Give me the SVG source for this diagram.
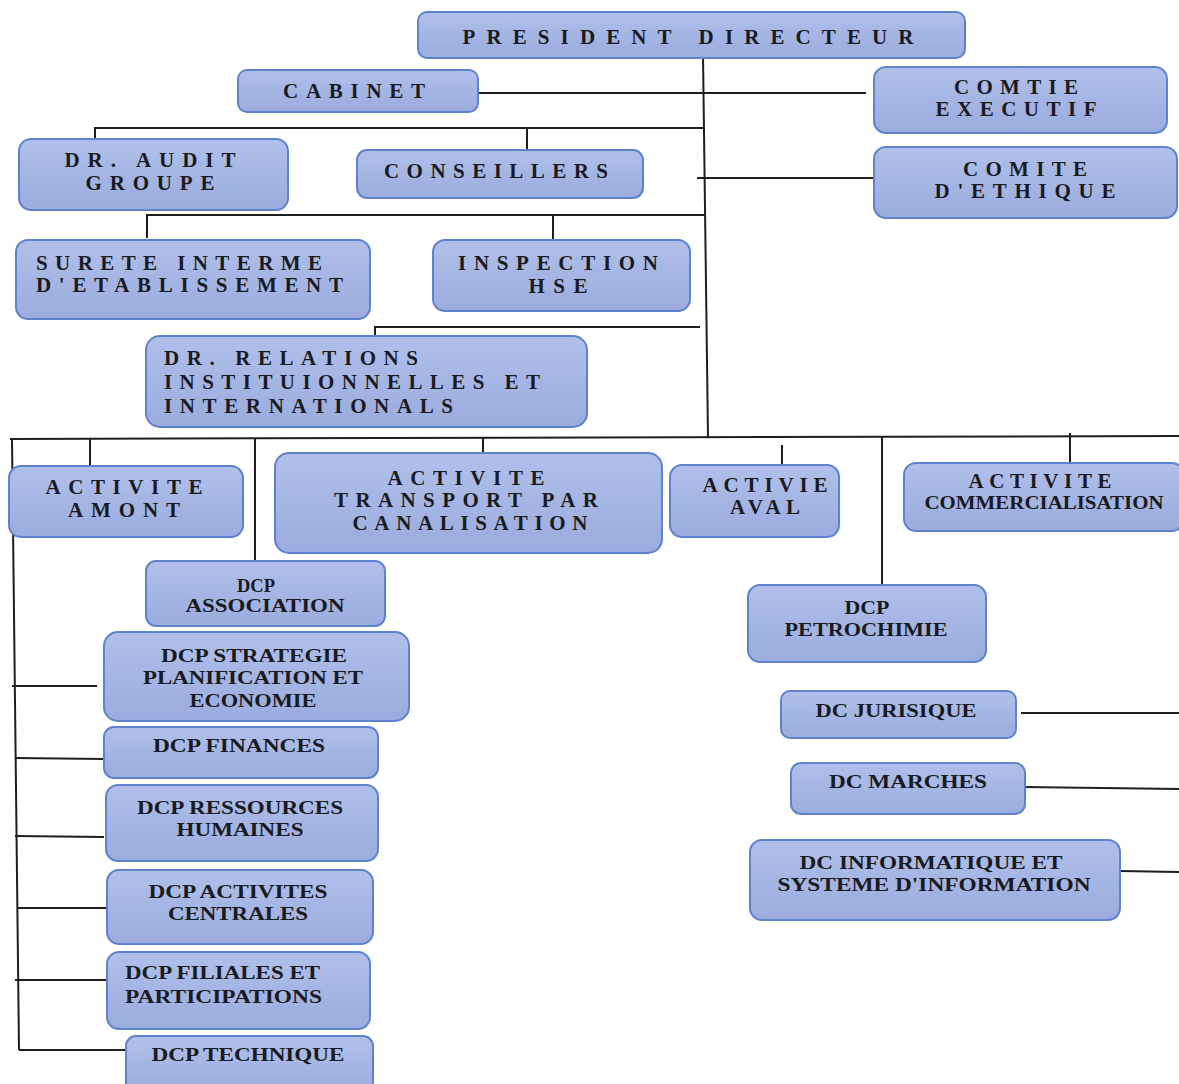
<svg xmlns="http://www.w3.org/2000/svg" width="1179" height="1084" viewBox="0 0 1179 1084">
  <defs>
    <linearGradient id="boxFill" x1="0" y1="0" x2="0" y2="1">
      <stop offset="0" stop-color="#b1c0ea"/>
      <stop offset="1" stop-color="#9aabdd"/>
    </linearGradient>
    <style>
      .box { fill: url(#boxFill); stroke: #5f82cd; stroke-width: 2; }
      .link { fill: none; stroke: #1e1e1e; stroke-width: 2; }
      .sp { font-family: "Liberation Serif", "DejaVu Serif", serif; font-weight: bold; font-size: 21px; fill: #1a1a22; text-anchor: middle; }
      .spl { text-anchor: start; }
      .cp { font-family: "Liberation Serif", "DejaVu Serif", serif; font-weight: bold; font-size: 19px; fill: #1a1a22; text-anchor: middle; }
      .cpl { text-anchor: start; }
    </style>
  </defs>
  <rect width="1179" height="1084" fill="#ffffff"/>

  <!-- connectors -->
  <g id="connectors">
    <path class="link" d="M703,55 L708,437"/>
    <path class="link" d="M478,93 L866,93"/>
    <path class="link" d="M697,178 L874,178"/>
    <path class="link" d="M95,140 L95,128 L704,128 M527,128 L527,150"/>
    <path class="link" d="M147,238 L147,215 L705,215 M553,215 L553,245"/>
    <path class="link" d="M375,340 L375,327 L700,327"/>
    <path class="link" d="M10,439 L1179,436"/>
    <path class="link" d="M90,438 L90,475"/>
    <path class="link" d="M255,438 L255,565"/>
    <path class="link" d="M483,438 L483,465"/>
    <path class="link" d="M782,445 L782,472"/>
    <path class="link" d="M882,437 L882,585"/>
    <path class="link" d="M1070,433 L1070,470"/>
    <path class="link" d="M12,439 L19,1050"/>
    <path class="link" d="M12,686 L97,686"/>
    <path class="link" d="M15,758 L104,759"/>
    <path class="link" d="M15,836 L104,837"/>
    <path class="link" d="M17,908 L112,908"/>
    <path class="link" d="M15,980 L112,980"/>
    <path class="link" d="M19,1050 L135,1050"/>
    <path class="link" d="M1021,713 L1179,713"/>
    <path class="link" d="M1024,787 L1179,789"/>
    <path class="link" d="M1120,871 L1179,872"/>
  </g>

  <g id="president">
    <rect class="box" x="418" y="12" width="547" height="46" rx="9"/>
    <text class="sp" x="688" y="44" font-size="27" textLength="451">PRESIDENT DIRECTEUR</text>
  </g>
  <g id="cabinet">
    <rect class="box" x="238" y="70" width="240" height="42" rx="9"/>
    <text class="sp" x="354" y="98" textLength="142">CABINET</text>
  </g>
  <g id="comite-executif">
    <rect class="box" x="874" y="67" width="293" height="66" rx="12"/>
    <text class="sp" x="1016" y="94" textLength="124">COMTIE</text>
    <text class="sp" x="1016" y="116" textLength="161">EXECUTIF</text>
  </g>
  <g id="comite-ethique">
    <rect class="box" x="874" y="147" width="303" height="71" rx="12"/>
    <text class="sp" x="1025" y="176" textLength="124">COMITE</text>
    <text class="sp" x="1025" y="198" textLength="181">D'ETHIQUE</text>
  </g>
  <g id="audit">
    <rect class="box" x="19" y="139" width="269" height="71" rx="12"/>
    <text class="sp" x="150" y="167" textLength="171">DR. AUDIT</text>
    <text class="sp" x="150" y="190" textLength="129">GROUPE</text>
  </g>
  <g id="conseillers">
    <rect class="box" x="357" y="150" width="286" height="48" rx="10"/>
    <text class="sp" x="496" y="178" textLength="224">CONSEILLERS</text>
  </g>
  <g id="surete">
    <rect class="box" x="16" y="240" width="354" height="79" rx="12"/>
    <text class="sp spl" x="36" y="270" textLength="286">SURETE INTERME</text>
    <text class="sp spl" x="36" y="292" textLength="307">D'ETABLISSEMENT</text>
  </g>
  <g id="inspection">
    <rect class="box" x="433" y="240" width="257" height="71" rx="12"/>
    <text class="sp" x="558" y="270" textLength="200">INSPECTION</text>
    <text class="sp" x="558" y="293" textLength="59">HSE</text>
  </g>
  <g id="relations">
    <rect class="box" x="146" y="336" width="441" height="91" rx="14"/>
    <text class="sp spl" x="164" y="365" textLength="254">DR. RELATIONS</text>
    <text class="sp spl" x="164" y="389" textLength="376">INSTITUIONNELLES ET</text>
    <text class="sp spl" x="164" y="413" textLength="289">INTERNATIONALS</text>
  </g>
  <g id="amont">
    <rect class="box" x="9" y="466" width="234" height="71" rx="12"/>
    <text class="sp" x="124" y="494" font-size="20" textLength="157">ACTIVITE</text>
    <text class="sp" x="124" y="517" font-size="20" textLength="112">AMONT</text>
  </g>
  <g id="transport">
    <rect class="box" x="275" y="453" width="387" height="100" rx="14"/>
    <text class="sp" x="466" y="485" textLength="157">ACTIVITE</text>
    <text class="sp" x="466" y="507" textLength="264">TRANSPORT PAR</text>
    <text class="sp" x="470" y="530" textLength="235">CANALISATION</text>
  </g>
  <g id="aval">
    <rect class="box" x="670" y="465" width="169" height="72" rx="12"/>
    <text class="sp" x="765" y="492" font-size="18" textLength="125">ACTIVIE</text>
    <text class="sp" x="765" y="514" font-size="18" textLength="70">AVAL</text>
  </g>
  <g id="commercialisation">
    <rect class="box" x="904" y="463" width="280" height="68" rx="12"/>
    <text class="sp" x="1040" y="488" font-size="19" textLength="143">ACTIVITE</text>
    <text class="cp" x="1044" y="509" font-size="18" textLength="239" lengthAdjust="spacingAndGlyphs">COMMERCIALISATION</text>
  </g>
  <g id="association">
    <rect class="box" x="146" y="561" width="239" height="65" rx="10"/>
    <text class="cp" x="256" y="592" textLength="38" lengthAdjust="spacingAndGlyphs">DCP</text>
    <text class="cp" x="265" y="612" textLength="159" lengthAdjust="spacingAndGlyphs">ASSOCIATION</text>
  </g>
  <g id="strategie">
    <rect class="box" x="104" y="632" width="305" height="89" rx="14"/>
    <text class="cp" x="254" y="662" textLength="186" lengthAdjust="spacingAndGlyphs">DCP STRATEGIE</text>
    <text class="cp" x="253" y="684" textLength="220" lengthAdjust="spacingAndGlyphs">PLANIFICATION ET</text>
    <text class="cp" x="253" y="707" textLength="127" lengthAdjust="spacingAndGlyphs">ECONOMIE</text>
  </g>
  <g id="finances">
    <rect class="box" x="104" y="727" width="274" height="51" rx="10"/>
    <text class="cp" x="239" y="752" textLength="172" lengthAdjust="spacingAndGlyphs">DCP FINANCES</text>
  </g>
  <g id="ressources">
    <rect class="box" x="106" y="785" width="272" height="76" rx="12"/>
    <text class="cp" x="240" y="814" textLength="206" lengthAdjust="spacingAndGlyphs">DCP RESSOURCES</text>
    <text class="cp" x="240" y="836" textLength="127" lengthAdjust="spacingAndGlyphs">HUMAINES</text>
  </g>
  <g id="activites-centrales">
    <rect class="box" x="107" y="870" width="266" height="74" rx="12"/>
    <text class="cp" x="238" y="898" textLength="179" lengthAdjust="spacingAndGlyphs">DCP ACTIVITES</text>
    <text class="cp" x="238" y="920" textLength="140" lengthAdjust="spacingAndGlyphs">CENTRALES</text>
  </g>
  <g id="filiales">
    <rect class="box" x="107" y="952" width="263" height="77" rx="12"/>
    <text class="cp cpl" x="125" y="979" textLength="195" lengthAdjust="spacingAndGlyphs">DCP FILIALES ET</text>
    <text class="cp cpl" x="125" y="1003" textLength="197" lengthAdjust="spacingAndGlyphs">PARTICIPATIONS</text>
  </g>
  <g id="technique">
    <rect class="box" x="126" y="1036" width="247" height="60" rx="10"/>
    <text class="cp" x="248" y="1061" textLength="193" lengthAdjust="spacingAndGlyphs">DCP TECHNIQUE</text>
  </g>
  <g id="petrochimie">
    <rect class="box" x="748" y="585" width="238" height="77" rx="12"/>
    <text class="cp" x="867" y="614" textLength="45" lengthAdjust="spacingAndGlyphs">DCP</text>
    <text class="cp" x="866" y="636" textLength="163" lengthAdjust="spacingAndGlyphs">PETROCHIMIE</text>
  </g>
  <g id="juridique">
    <rect class="box" x="781" y="691" width="235" height="47" rx="9"/>
    <text class="cp" x="896" y="717" textLength="161" lengthAdjust="spacingAndGlyphs">DC JURISIQUE</text>
  </g>
  <g id="marches">
    <rect class="box" x="791" y="763" width="234" height="51" rx="10"/>
    <text class="cp" x="908" y="788" textLength="158" lengthAdjust="spacingAndGlyphs">DC MARCHES</text>
  </g>
  <g id="informatique">
    <rect class="box" x="750" y="840" width="370" height="80" rx="12"/>
    <text class="cp" x="931" y="869" textLength="263" lengthAdjust="spacingAndGlyphs">DC INFORMATIQUE ET</text>
    <text class="cp" x="934" y="891" textLength="313" lengthAdjust="spacingAndGlyphs">SYSTEME D'INFORMATION</text>
  </g>
</svg>
